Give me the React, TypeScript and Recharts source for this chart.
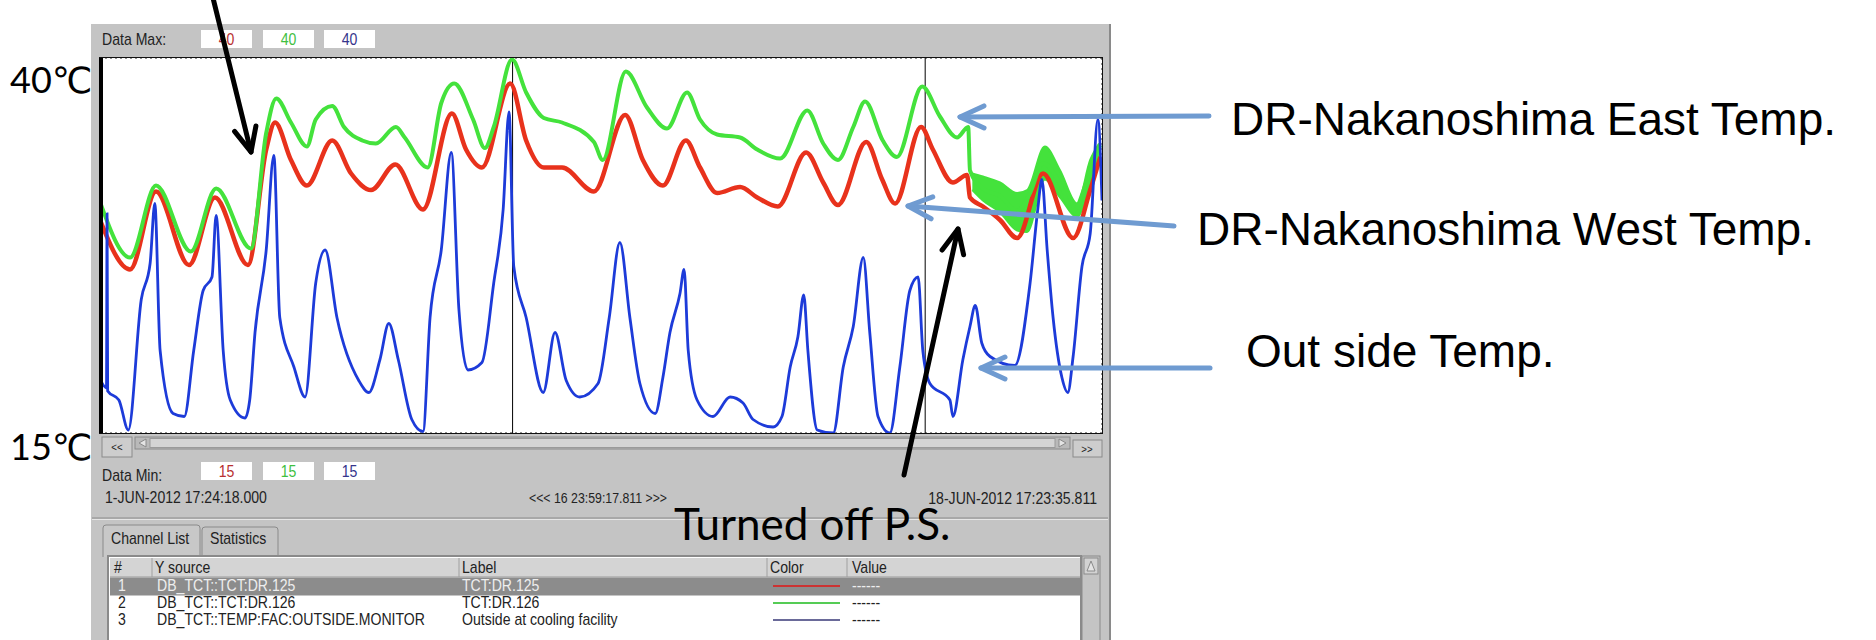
import React from "react";
import {
  ComposedChart,
  Line,
  Area,
  XAxis,
  YAxis,
  CartesianGrid,
  ReferenceLine,
} from "recharts";

// x axis: days since 1-JUN-2012 17:24:18, y axis: deg C
const gridDays = [1.4, 2.8, 4.2, 5.6, 7.0, 8.4, 9.8, 11.2, 12.6, 14.0, 15.4, 16.8];
const gridTemps = [20, 25, 30, 35];
const cursorDays = [7.0, 14.0];

// TCT:DR.126 (east)
const eastDays = [0, 0.51, 0.95, 1.54, 1.97, 2.56, 2.82, 2.99, 3.24, 3.51, 3.66, 3.94, 4.14, 4.45, 4.68, 5.02, 5.17, 5.56, 5.79, 6.01, 6.33, 6.53, 6.68, 6.99, 7.23, 7.53, 7.84, 8.38, 8.53, 8.92, 9.28, 9.62, 9.96, 10.18, 10.47, 10.86, 11.15, 11.54, 12.0, 12.27, 12.52, 12.78, 12.98, 13.28, 13.52, 13.95, 14.25, 14.54, 14.73, 14.76, 14.98, 15.27, 15.56, 15.78, 16.0, 16.29, 16.51, 16.8, 16.97];
const eastTemps = [30.4, 26.7, 31.5, 27.1, 31.3, 27.3, 35.0, 37.3, 35.7, 34.1, 35.9, 36.8, 35.4, 34.5, 34.3, 35.4, 34.7, 32.7, 37.0, 38.3, 35.9, 34.0, 35.4, 39.9, 37.7, 36.0, 35.7, 34.4, 33.2, 39.1, 36.7, 35.3, 37.7, 35.9, 34.9, 34.7, 33.9, 33.3, 36.5, 34.3, 33.2, 35.4, 37.1, 34.5, 33.4, 38.1, 36.1, 34.7, 35.4, 32.5, 31.3, 30.8, 29.8, 31.0, 33.0, 31.6, 29.8, 32.5, 34.2];

// east swing after the P.S. was turned off (low / high envelope)
const bandDays = [14.8, 14.98, 15.27, 15.56, 15.73, 16.03, 16.29, 16.58, 16.8, 16.95];
const bandLow = [31.2, 30.5, 29.7, 28.5, 28.4, 31.9, 30.7, 29.4, 31.7, 33.4];
const bandHigh = [32.3, 32.1, 31.7, 31.0, 31.2, 34.1, 32.5, 30.3, 33.2, 34.3];

// TCT:DR.125 (west)
const westDays = [0, 0.51, 0.95, 1.51, 1.95, 2.51, 2.82, 2.97, 3.24, 3.51, 3.94, 4.26, 4.6, 5.01, 5.48, 5.97, 6.21, 6.48, 6.96, 7.23, 7.53, 7.84, 8.38, 8.91, 9.21, 9.55, 9.94, 10.18, 10.47, 10.86, 11.15, 11.5, 11.98, 12.27, 12.52, 13.0, 13.27, 13.49, 13.93, 14.13, 14.47, 14.71, 14.76, 14.98, 15.27, 15.56, 16.0, 16.51, 16.8, 16.97];
const westTemps = [29.2, 25.9, 31.1, 26.2, 30.7, 26.2, 33.9, 35.7, 33.2, 31.5, 34.5, 32.3, 31.2, 32.9, 29.9, 36.3, 33.9, 32.7, 38.3, 34.5, 32.7, 32.7, 31.1, 36.2, 33.2, 31.5, 34.5, 32.7, 31.0, 31.4, 30.7, 30.1, 33.7, 31.7, 30.2, 34.4, 31.9, 30.3, 35.4, 33.9, 31.7, 32.2, 30.7, 30.1, 29.2, 28.0, 32.3, 28.0, 31.2, 33.4];

// TEMP:FAC:OUTSIDE.MONITOR
const outDays = [0, 0.11, 0.12, 0.13, 0.32, 0.48, 0.7, 0.85, 0.93, 1.02, 1.24, 1.43, 1.59, 1.75, 1.9, 1.97, 2.09, 2.21, 2.46, 2.54, 2.63, 2.82, 2.95, 3.05, 3.29, 3.48, 3.66, 3.82, 4.02, 4.39, 4.56, 4.75, 4.9, 5.06, 5.29, 5.48, 5.6, 5.79, 5.96, 6.09, 6.24, 6.48, 6.68, 6.84, 6.94, 7.02, 7.23, 7.52, 7.72, 7.91, 8.14, 8.45, 8.64, 8.82, 8.99, 9.16, 9.42, 9.55, 9.67, 9.84, 9.91, 9.98, 10.13, 10.4, 10.69, 10.91, 11.08, 11.42, 11.57, 11.71, 11.84, 11.94, 12.01, 12.17, 12.44, 12.61, 12.78, 12.95, 13.06, 13.2, 13.4, 13.57, 13.74, 13.88, 13.96, 14.08, 14.42, 14.47, 14.64, 14.76, 14.85, 14.96, 15.1, 15.52, 15.78, 15.91, 15.98, 16.07, 16.17, 16.32, 16.42, 16.51, 16.66, 16.8, 16.93, 17.0];
const outTemps = [18.6, 18.0, 29.6, 17.8, 17.2, 15.2, 23.9, 26.3, 30.3, 20.5, 16.3, 16.1, 20.5, 24.5, 25.4, 29.5, 20.5, 17.2, 16.0, 17.2, 21.7, 27.2, 33.5, 22.7, 19.4, 17.4, 25.0, 27.2, 22.7, 18.5, 17.7, 19.9, 22.3, 19.9, 15.9, 15.1, 22.7, 27.2, 33.7, 23.2, 19.2, 19.7, 25.0, 29.9, 36.4, 26.1, 22.7, 17.7, 21.7, 18.5, 17.4, 18.3, 22.7, 27.7, 22.7, 18.3, 16.3, 18.7, 21.7, 24.3, 25.9, 20.5, 17.2, 16.1, 17.4, 17.0, 15.9, 15.4, 16.1, 19.4, 21.4, 24.2, 20.5, 15.2, 15.0, 19.4, 22.1, 26.7, 21.7, 16.1, 15.0, 19.4, 24.5, 25.4, 20.5, 18.3, 17.2, 16.1, 19.9, 22.1, 23.5, 21.0, 20.1, 19.5, 25.0, 29.9, 31.9, 27.2, 22.7, 18.7, 17.7, 20.1, 26.1, 28.3, 35.9, 30.5];

const channels = [
  { n: "1", src: "DB_TCT::TCT:DR.125", label: "TCT:DR.125", color: "#cc3333" },
  { n: "2", src: "DB_TCT::TCT:DR.126", label: "TCT:DR.126", color: "#55cc55" },
  { n: "3", src: "DB_TCT::TEMP:FAC:OUTSIDE.MONITOR", label: "Outside at cooling facility", color: "#6a6a99" },
];
const dataMax = ["40", "40", "40"];
const dataMin = ["15", "15", "15"];
const boxColors = ["#b83030", "#3fc03f", "#35358c"];

const RED = "#e8321c";
const GREEN = "#44e23c";
const BLUE = "#1d3bd9";

type Row = { day: number; [k: string]: any };

function buildRows(): Row[] {
  const byDay = new Map<number, Row>();
  const put = (days: number[], key: string, get: (i: number) => any) => {
    days.forEach((d, i) => {
      let r = byDay.get(d);
      if (!r) {
        r = { day: d };
        byDay.set(d, r);
      }
      r[key] = get(i);
    });
  };
  put(westDays, "west", (i) => westTemps[i]);
  put(eastDays, "east", (i) => eastTemps[i]);
  put(bandDays, "eastBand", (i) => [bandLow[i], bandHigh[i]]);
  put(outDays, "outside", (i) => outTemps[i]);
  return Array.from(byDay.values()).sort((a, b) => a.day - b.day);
}

const rows = buildRows();

const uiFont = "'Liberation Sans', Arial, sans-serif";

function UiText({ x, y, children, anchor = "start", color = "#222", size = 16 }: any) {
  return (
    <text
      transform={`translate(${x},${y}) scale(0.88,1)`}
      textAnchor={anchor}
      fill={color}
      fontSize={size}
      fontFamily={uiFont}
    >
      {children}
    </text>
  );
}

function Arrow({ from, to, color, width = 5, len = 24, spread = 11 }: any) {
  const dx = to[0] - from[0];
  const dy = to[1] - from[1];
  const l = Math.hypot(dx, dy);
  const ux = dx / l;
  const uy = dy / l;
  const bx = to[0] - ux * len;
  const by = to[1] - uy * len;
  const w1 = [bx - uy * spread, by + ux * spread];
  const w2 = [bx + uy * spread, by - ux * spread];
  return (
    <g stroke={color} strokeWidth={width} fill="none" strokeLinecap="round" strokeLinejoin="round">
      <line x1={from[0]} y1={from[1]} x2={to[0]} y2={to[1]} />
      <polyline points={`${w1[0]},${w1[1]} ${to[0]},${to[1]} ${w2[0]},${w2[1]}`} />
    </g>
  );
}

function Chrome() {
  const boxX = [201, 263, 324];
  return (
    <svg width={1876} height={640} style={{ position: "absolute", left: 0, top: 0 }}>
      <rect x={91} y={24} width={1020} height={620} fill="#c4c4c4" />
      <line x1={1110} y1={24} x2={1110} y2={640} stroke="#8a8a8a" strokeWidth={2} />
      {boxX.map((x) => (
        <rect key={"mx" + x} x={x} y={30} width={51} height={18} fill="#fff" />
      ))}
      {boxX.map((x) => (
        <rect key={"mn" + x} x={x} y={462} width={51} height={18} fill="#fff" />
      ))}
      {/* scroll bar */}
      <rect x={102} y={437} width={30} height={20} fill="#cdcdcd" stroke="#8a8a8a" />
      <rect x={135} y={437} width={935} height={12} fill="#b9b9b9" stroke="#8a8a8a" />
      <rect x={150} y={438.5} width={905} height={9} fill="#d4d4d4" stroke="#9a9a9a" />
      <polygon points="146,439 146,447 139,443" fill="#e4e4e4" stroke="#8a8a8a" />
      <polygon points="1059,439 1059,447 1066,443" fill="#e4e4e4" stroke="#8a8a8a" />
      <rect x={1073} y={440} width={29} height={17} fill="#cdcdcd" stroke="#8a8a8a" />
      {/* separator */}
      <line x1={92} y1={518} x2={1108} y2={518} stroke="#8c8c8c" />
      <line x1={92} y1={519.5} x2={1108} y2={519.5} stroke="#e6e6e6" />
      {/* tabs */}
      <path d="M103,557 V528 Q103,525 106,525 H197 Q200,525 200,528 V557" fill="#c8c8c8" stroke="#8a8a8a" />
      <path d="M202,557 V530 Q202,527 205,527 H275 Q278,527 278,530 V557" fill="#c4c4c4" stroke="#8a8a8a" />
      {/* table */}
      <rect x={108} y={556} width={973} height={90} fill="#fff" stroke="#8a8a8a" strokeWidth={2} />
      <rect x={110} y={558} width={970} height={19} fill="#d4d4d4" />
      <line x1={110} y1={577} x2={1080} y2={577} stroke="#9a9a9a" />
      <rect x={110} y={577.5} width={970} height={18} fill="#8c8c8c" />
      {[152, 459, 767, 847].map((x) => (
        <line key={x} x1={x} y1={558} x2={x} y2={577} stroke="#a0a0a0" />
      ))}
      <rect x={1082} y={556} width={18} height={90} fill="#c4c4c4" stroke="#8a8a8a" />
      <rect x={1084} y={558} width={14} height={16} fill="#d2d2d2" stroke="#8a8a8a" />
      <polygon points="1087,571 1095,571 1091,561" fill="#e4e4e4" stroke="#8a8a8a" />
      {channels.map((c, i) => (
        <line key={c.n} x1={773} y1={586 + i * 17} x2={840} y2={586 + i * 17} stroke={c.color} strokeWidth={2} />
      ))}
    </svg>
  );
}

function Overlay() {
  const boxCx = [226.5, 288.5, 349.5];
  return (
    <svg width={1876} height={640} style={{ position: "absolute", left: 0, top: 0 }}>
      <rect x={99} y={58} width={4} height={375} fill="#000" />

      <UiText x={102} y={45}>Data Max:</UiText>
      {dataMax.map((v, i) => (
        <UiText key={"a" + i} x={boxCx[i]} y={45} anchor="middle" color={boxColors[i]}>{v}</UiText>
      ))}
      <UiText x={117} y={451} anchor="middle" size={11}>{"<<"}</UiText>
      <UiText x={1087} y={453} anchor="middle" size={11}>{">>"}</UiText>
      <UiText x={102} y={481}>Data Min:</UiText>
      {dataMin.map((v, i) => (
        <UiText key={"b" + i} x={boxCx[i]} y={477} anchor="middle" color={boxColors[i]}>{v}</UiText>
      ))}
      <UiText x={105} y={503}>1-JUN-2012 17:24:18.000</UiText>
      <UiText x={598} y={503} anchor="middle" size={14}>{"<<< 16 23:59:17.811 >>>"}</UiText>
      <UiText x={1097} y={504} anchor="end">18-JUN-2012 17:23:35.811</UiText>
      <UiText x={111} y={544}>Channel List</UiText>
      <UiText x={210} y={544}>Statistics</UiText>
      <UiText x={114} y={573}>#</UiText>
      <UiText x={155} y={573}>Y source</UiText>
      <UiText x={462} y={573}>Label</UiText>
      <UiText x={770} y={573}>Color</UiText>
      <UiText x={852} y={573}>Value</UiText>
      {channels.map((c, i) => {
        const y = 591 + i * 17;
        const col = i === 0 ? "#eeeeee" : "#222";
        return (
          <g key={c.n}>
            <UiText x={118} y={y} color={col}>{c.n}</UiText>
            <UiText x={157} y={y} color={col}>{c.src}</UiText>
            <UiText x={462} y={y} color={col}>{c.label}</UiText>
            <UiText x={852} y={y} color={col}>------</UiText>
          </g>
        );
      })}

      <g fontFamily="Lato, 'DejaVu Sans', sans-serif" fill="#000">
        <text x={10} y={93} fontSize={36}>40℃</text>
        <text x={10} y={460} fontSize={36}>15℃</text>
        <text x={674} y={540} fontSize={44}>Turned off P.S.</text>
      </g>
      <g fontFamily="'Liberation Sans', Arial, sans-serif" fill="#000" fontSize={46}>
        <text x={1231} y={135}>DR-Nakanoshima East Temp.</text>
        <text x={1197} y={245}>DR-Nakanoshima West Temp.</text>
        <text x={1246} y={367}>Out side Temp.</text>
      </g>

      <Arrow from={[1209, 116]} to={[960, 117]} color="#6f9bd1" />
      <Arrow from={[1174, 226]} to={[908, 206]} color="#6f9bd1" />
      <Arrow from={[1210, 368]} to={[981, 368]} color="#6f9bd1" />
      <Arrow from={[213, -2]} to={[251, 152]} color="#000" />
      <Arrow from={[904, 475]} to={[958, 229]} color="#000" />
    </svg>
  );
}

export default function App() {
  return (
    <div
      style={{
        position: "absolute",
        left: 0,
        top: 0,
        width: 1876,
        height: 640,
        background: "#fff",
        overflow: "hidden",
      }}
    >
      <Chrome />
      <div
        style={{
          position: "absolute",
          left: 100,
          top: 58,
          width: 1002,
          height: 375,
          background: "#fff",
          outline: "1px solid #111",
        }}
      >
        <ComposedChart
          width={1002}
          height={375}
          data={rows}
          margin={{ top: 0, right: 0, bottom: 0, left: 0 }}
        >
          <XAxis
            type="number"
            dataKey="day"
            domain={[0, 17]}
            ticks={gridDays}
            height={0}
            tick={false}
            axisLine={false}
            tickLine={false}
            allowDataOverflow
          />
          <YAxis
            type="number"
            domain={[15, 40]}
            ticks={gridTemps}
            width={0}
            tick={false}
            axisLine={false}
            tickLine={false}
            allowDataOverflow
          />
          <CartesianGrid stroke="#222" strokeDasharray="2 3" />
          {cursorDays.map((d) => (
            <ReferenceLine key={d} x={d} stroke="#000" strokeWidth={1} />
          ))}
          <Line
            type="monotone"
            dataKey="west"
            stroke={RED}
            strokeWidth={4.5}
            dot={false}
            connectNulls
            isAnimationActive={false}
          />
          <Area
            type="monotone"
            dataKey="eastBand"
            stroke={GREEN}
            strokeWidth={2}
            fill={GREEN}
            fillOpacity={1}
            dot={false}
            connectNulls
            isAnimationActive={false}
          />
          <Line
            type="monotone"
            dataKey="east"
            stroke={GREEN}
            strokeWidth={4}
            dot={false}
            connectNulls
            isAnimationActive={false}
          />
          <Line
            type="monotone"
            dataKey="outside"
            stroke={BLUE}
            strokeWidth={2.8}
            dot={false}
            connectNulls
            isAnimationActive={false}
          />
        </ComposedChart>
      </div>
      <Overlay />
    </div>
  );
}
